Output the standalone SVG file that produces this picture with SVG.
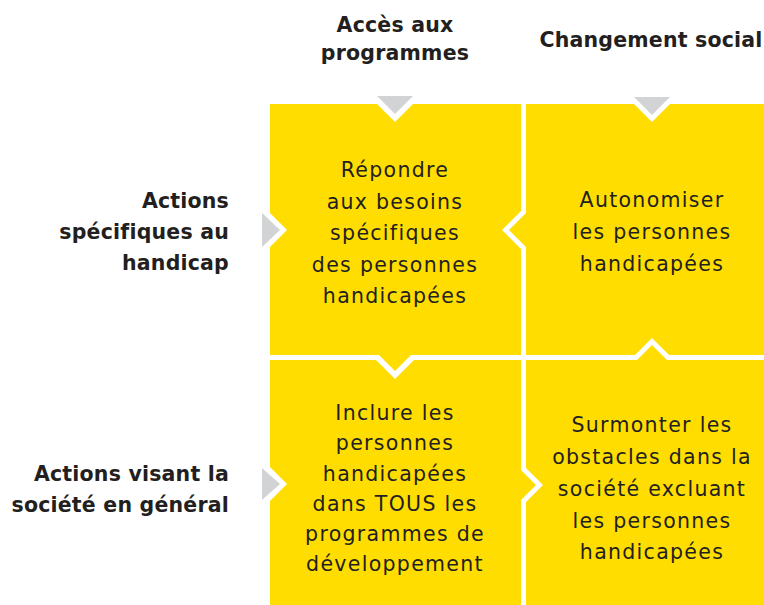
<svg xmlns="http://www.w3.org/2000/svg" width="764" height="605" viewBox="0 0 764 605">
<style>
.cell{fill:#FFDD00;}
.arrow{fill:#D1D3D4;}
.ct{font-family:"DejaVu Sans","Liberation Sans",sans-serif;font-size:20.5px;fill:#231F20;text-anchor:middle;letter-spacing:1.3px;}
.hd{font-family:"DejaVu Sans","Liberation Sans",sans-serif;font-size:20.5px;font-weight:bold;fill:#231F20;letter-spacing:0.2px;}
.mid{text-anchor:middle;}
.end{text-anchor:end;}
</style>
<rect width="764" height="605" fill="#FFFFFF"/>
<g id="header-acces">
<text class="hd mid" x="395" y="32">Accès aux</text>
<text class="hd mid" x="395" y="60">programmes</text>
</g>
<g id="header-changement">
<text class="hd mid" x="651" y="47">Changement social</text>
</g>
<g id="row-specifiques">
<text class="hd end" x="229" y="208">Actions</text>
<text class="hd end" x="229" y="239">spécifiques au</text>
<text class="hd end" x="229" y="270">handicap</text>
</g>
<g id="row-generales">
<text class="hd end" x="229" y="481">Actions visant la</text>
<text class="hd end" x="229" y="512">société en général</text>
</g>
<g id="cell-repondre">
<polygon class="cell" points="270,104 377,104 395,122 413,104 521,104 521,211 502,230 521,249 521,355 411,355 395,371 379,355 270,355 270,247 287,230 270,213"/>
<text class="ct" x="395" y="177">Répondre</text>
<text class="ct" x="395" y="209">aux besoins</text>
<text class="ct" x="395" y="240">spécifiques</text>
<text class="ct" x="395" y="272">des personnes</text>
<text class="ct" x="395" y="303">handicapées</text>
</g>
<g id="cell-autonomiser">
<polygon class="cell" points="526,104 634,104 652,122 670,104 764,104 764,355 669,355 652,338 635,355 526,355 526,247 509,230 526,213"/>
<text class="ct" x="652" y="207">Autonomiser</text>
<text class="ct" x="652" y="239">les personnes</text>
<text class="ct" x="652" y="271">handicapées</text>
</g>
<g id="cell-inclure">
<polygon class="cell" points="270,360 376,360 395,379 414,360 521,360 521,470 536,485 521,500 521,605 270,605 270,501 287,484 270,467"/>
<text class="ct" x="395" y="420">Inclure les</text>
<text class="ct" x="395" y="450">personnes</text>
<text class="ct" x="395" y="481">handicapées</text>
<text class="ct" x="395" y="511">dans TOUS les</text>
<text class="ct" x="395" y="541">programmes de</text>
<text class="ct" x="395" y="571">développement</text>
</g>
<g id="cell-surmonter">
<polygon class="cell" points="526,360 637,360 652,345 667,360 764,360 764,605 526,605 526,502 543,485 526,468"/>
<text class="ct" x="652" y="432">Surmonter les</text>
<text class="ct" x="652" y="464">obstacles dans la</text>
<text class="ct" x="652" y="496">société excluant</text>
<text class="ct" x="652" y="528">les personnes</text>
<text class="ct" x="652" y="559">handicapées</text>
</g>
<g id="connectors">
<polygon class="arrow" points="377,96 413,96 395,114"/>
<polygon class="arrow" points="634,97 670,97 652,115"/>
<polygon class="arrow" points="262,213 280,230 262,247"/>
<polygon class="arrow" points="262,468 280,484 262,500"/>
</g>
</svg>
